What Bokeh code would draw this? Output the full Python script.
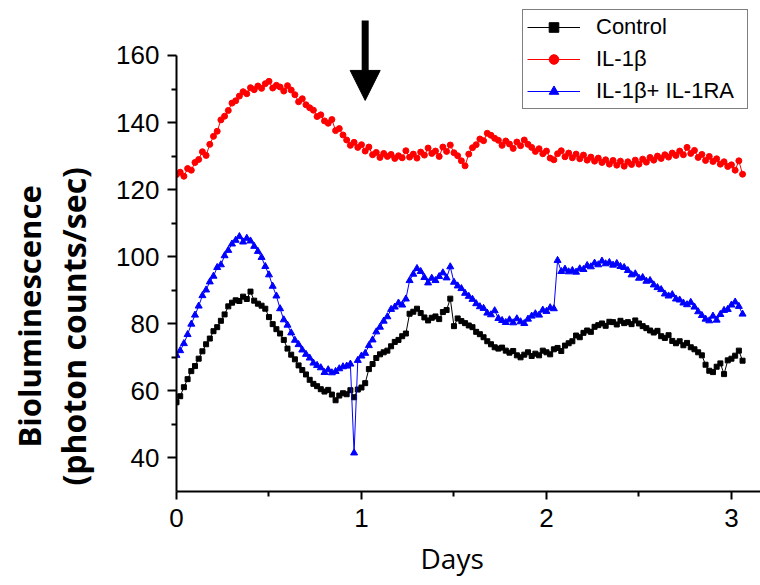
from bokeh.plotting import figure
from bokeh.models import (FixedTicker, Arrow, NormalHead, Legend, LegendItem, Range1d,
                          Title, LinearAxis)
from bokeh.embed import file_html
from bokeh.resources import INLINE

# sampling times (days)
days = [round(i * 0.02, 2) for i in range(154)]

control = [
    56.6, 58.4, 61.1, 63.5, 65.9, 67.4, 69.6, 71.8, 73.9, 75.6,
    77.8, 79.0, 80.9, 82.8, 85.2, 86.3, 87.0, 86.8, 88.1, 87.4,
    89.6, 86.9, 86.0, 85.4, 84.5, 82.0, 79.9, 78.4, 77.1, 75.2,
    72.6, 70.8, 69.4, 67.6, 66.2, 64.9, 63.3, 62.1, 61.4, 60.5,
    59.8, 60.3, 58.9, 57.2, 58.6, 59.3, 59.0, 60.2, 58.1, 60.4,
    61.0, 62.3, 66.5, 68.0, 69.8, 70.9, 71.5, 72.0, 73.3, 74.6,
    75.2, 76.3, 77.1, 83.0, 83.6, 84.5, 83.2, 81.9, 81.0, 81.8,
    82.2, 81.4, 83.5, 84.1, 87.5, 79.3, 81.6, 80.8, 80.2, 79.5,
    79.0, 77.6, 76.9, 76.0, 74.8, 73.9, 73.0, 72.6, 72.9, 72.0,
    71.4, 71.9, 70.6, 70.0, 70.8, 71.5, 70.4, 71.1, 70.6, 72.0,
    71.5, 70.9, 72.4, 72.8, 71.9, 73.5, 74.2, 74.8, 76.5, 76.0,
    77.3, 78.0, 77.6, 79.1, 79.6, 80.1, 79.4, 80.6, 80.5, 79.8,
    80.9, 80.2, 80.5, 79.9, 81.0, 80.1, 79.3, 78.7, 78.0, 77.4,
    77.9, 76.3, 75.8, 76.6, 74.9, 74.2, 74.8, 73.6, 74.3, 73.0,
    72.4, 71.5, 70.6, 67.8, 66.0, 65.6, 67.2, 68.2, 65.0, 69.1,
    69.6, 70.5, 72.0, 69.0,
]

il1b = [
    124.5, 125.2, 124.0, 126.3, 125.8, 128.1, 129.0, 131.3, 130.2, 133.5,
    135.9, 137.4, 140.8, 141.9, 143.6, 145.8, 146.5, 147.9, 149.2, 148.6,
    150.4, 149.8, 150.9, 150.2, 151.6, 152.3, 150.3, 151.1, 150.6, 149.4,
    151.0, 149.7, 148.3, 146.2, 147.1, 145.3, 144.4, 143.7, 141.8, 142.3,
    140.5, 139.8, 140.9, 137.6, 138.2, 136.3, 134.8, 133.2, 134.1, 132.6,
    133.4, 131.5, 132.7, 130.4, 131.1, 129.6, 130.8, 129.9, 130.5, 129.3,
    130.1, 129.5, 131.6, 129.7, 130.6, 129.4, 131.2, 130.3, 132.4, 130.8,
    131.5, 129.9, 132.7, 131.4, 133.3, 131.0, 130.1, 128.6, 127.1, 130.6,
    132.5, 133.4, 135.1, 134.6, 136.8, 136.2, 135.3, 134.7, 133.2, 134.5,
    133.6, 132.3, 134.2, 133.1, 134.8, 133.5, 132.6, 131.4, 132.2, 130.7,
    131.5, 129.4, 128.9, 130.7, 131.6, 129.8, 130.9, 129.5, 130.6, 129.2,
    130.3, 128.8, 129.7, 128.5, 129.4, 128.1, 128.9, 127.6, 128.7, 127.3,
    128.5, 127.0, 128.3, 127.5, 128.8, 127.6, 129.1, 128.2, 129.6, 128.8,
    130.0, 129.3, 130.4, 129.7, 130.9, 130.2, 131.5, 130.4, 132.6, 130.8,
    131.7, 129.6, 130.5, 128.7, 129.9, 128.4, 129.2, 127.6, 128.3, 126.9,
    127.4, 125.8, 128.6, 124.6,
]

il1b_ra = [
    70.6, 72.0, 74.1, 76.8, 79.9, 82.6, 85.3, 88.4, 90.1, 92.5,
    94.2, 96.8, 97.6, 100.3, 101.9, 103.8, 104.9, 106.0, 104.4, 105.5,
    104.7, 103.1, 101.6, 99.8, 97.1, 94.6, 91.2, 88.3, 84.5, 81.2,
    79.6, 77.3, 75.1, 73.8, 72.2, 70.9, 69.8, 68.3, 67.6, 66.9,
    65.5, 66.3, 65.4, 65.8, 66.6, 67.2, 67.4, 68.0, 41.5, 69.1,
    70.4, 71.2, 73.5, 75.2, 77.6, 79.0, 80.8, 82.1, 84.3, 85.0,
    86.2, 85.6, 87.4, 92.9, 94.8, 96.5, 95.6, 93.8, 92.2, 93.6,
    92.9, 94.1, 95.2, 93.7, 97.0, 92.4, 91.3, 90.5, 89.1, 88.2,
    87.3, 86.0, 85.1, 84.6, 83.2, 82.7, 83.9, 81.6, 81.0, 80.4,
    81.2, 80.3, 81.5, 80.6, 80.1, 81.4, 82.3, 83.0, 82.6, 84.1,
    83.7, 84.8, 84.5, 98.9, 95.6, 96.3, 95.5, 95.9, 95.4, 96.4,
    96.2, 97.4, 97.0, 98.1, 97.6, 98.7, 97.9, 98.3, 97.5, 98.0,
    97.1, 96.8, 95.9, 94.6, 94.9, 93.6, 93.8, 92.7, 92.9, 91.6,
    90.8, 90.2, 88.9, 88.3, 88.7, 87.4, 87.1, 86.2, 85.7, 86.4,
    85.0, 83.6, 82.5, 81.4, 80.9, 82.3, 81.1, 82.8, 84.0, 84.3,
    85.6, 86.5, 85.2, 82.9,
]

series_labels = ["Control", "IL-1\u03b2", "IL-1\u03b2+ IL-1RA"]
x_ticks = [0, 1, 2, 3]
x_minor = [0.5, 1.5, 2.5]
y_ticks = [40, 60, 80, 100, 120, 140, 160]
y_minor = [50, 70, 90, 110, 130, 150]

# treatment arrow (day of treatment)
arrow_day = 1.02
arrow_top, arrow_tip = 170.4, 146.6

p = figure(width=760, height=585, output_backend="svg", toolbar_location=None,
           x_range=Range1d(0, 3.157), y_range=Range1d(30, 174.01),
           min_border_left=176, min_border_right=0, min_border_top=8,
           min_border_bottom=94)
p.outline_line_color = None
p.grid.visible = False
p.background_fill_color = "white"
p.border_fill_color = "white"

for ax in (p.xaxis[0], p.yaxis[0]):
    ax.axis_line_width = 2
    ax.axis_line_color = "black"
    ax.major_tick_line_width = 2
    ax.minor_tick_line_width = 2
    ax.major_tick_line_color = "black"
    ax.minor_tick_line_color = "black"
    ax.major_tick_in = 0
    ax.major_tick_out = 9
    ax.minor_tick_in = 0
    ax.minor_tick_out = 5
    ax.major_label_text_font = "Liberation Sans"
    ax.major_label_text_font_size = "26px"
    ax.major_label_text_color = "black"

p.xaxis[0].ticker = FixedTicker(ticks=x_ticks, minor_ticks=x_minor)
p.yaxis[0].ticker = FixedTicker(ticks=y_ticks, minor_ticks=y_minor)
p.yaxis[0].bounds = (30, 160)
p.xaxis[0].major_tick_out = 8
p.xaxis[0].major_label_standoff = 9
p.yaxis[0].major_label_standoff = 8

l1 = p.line(days, control, line_color="black", line_width=1)
s1 = p.scatter(days, control, marker="square", size=5, color="black")
l2 = p.line(days, il1b, line_color="red", line_width=1)
s2 = p.scatter(days, il1b, marker="circle", size=6, color="red")
l3 = p.line(days, il1b_ra, line_color="blue", line_width=1)
s3 = p.scatter(days, il1b_ra, marker="triangle", size=7, color="blue")

legend = Legend(items=[
    LegendItem(label=series_labels[0], renderers=[l1, s1]),
    LegendItem(label=series_labels[1], renderers=[l2, s2]),
    LegendItem(label=series_labels[2], renderers=[l3, s3]),
], location=(346, 382), padding=4, spacing=6, margin=0,
    glyph_width=53, glyph_height=24, label_height=24, label_width=147,
    label_standoff=16, border_line_color="black", border_line_width=1,
    background_fill_color="white", background_fill_alpha=1.0,
    label_text_font="Liberation Sans", label_text_font_size="22px",
    label_text_color="black")
p.add_layout(legend, "center")

p.add_layout(Arrow(end=NormalHead(size=30, fill_color="black", line_color="black"),
                   x_start=arrow_day, y_start=arrow_top, x_end=arrow_day, y_end=arrow_tip,
                   line_width=7, line_color="black"))

# blank spacer between the tick labels and the axis title (one hidden tick)
spacer = LinearAxis(ticker=FixedTicker(ticks=[100], minor_ticks=[]), major_tick_out=19,
                    major_tick_in=0, major_label_standoff=0,
                    axis_line_color=None, major_tick_line_color=None,
                    minor_tick_line_color=None, major_label_overrides={100: ""},
                    major_label_text_font_size="1px")
p.add_layout(spacer, "left")

p.add_layout(Title(text="(photon counts/sec)", align="left", offset=6, standoff=0,
                   vertical_align="bottom", text_font="Open Sans", text_font_style="bold",
                   text_font_size="32px", text_color="black"), "left")
p.add_layout(Title(text="Bioluminescence", align="left", offset=44, standoff=0,
                   vertical_align="bottom", text_font="Open Sans", text_font_style="bold",
                   text_font_size="31px", text_color="black"), "left")
p.add_layout(Title(text="Days", align="left", offset=244, standoff=15,
                   vertical_align="bottom", text_font="Open Sans", text_font_style="normal",
                   text_font_size="28px", text_color="black"), "below")

open("out.html", "w").write(file_html(p, INLINE))
